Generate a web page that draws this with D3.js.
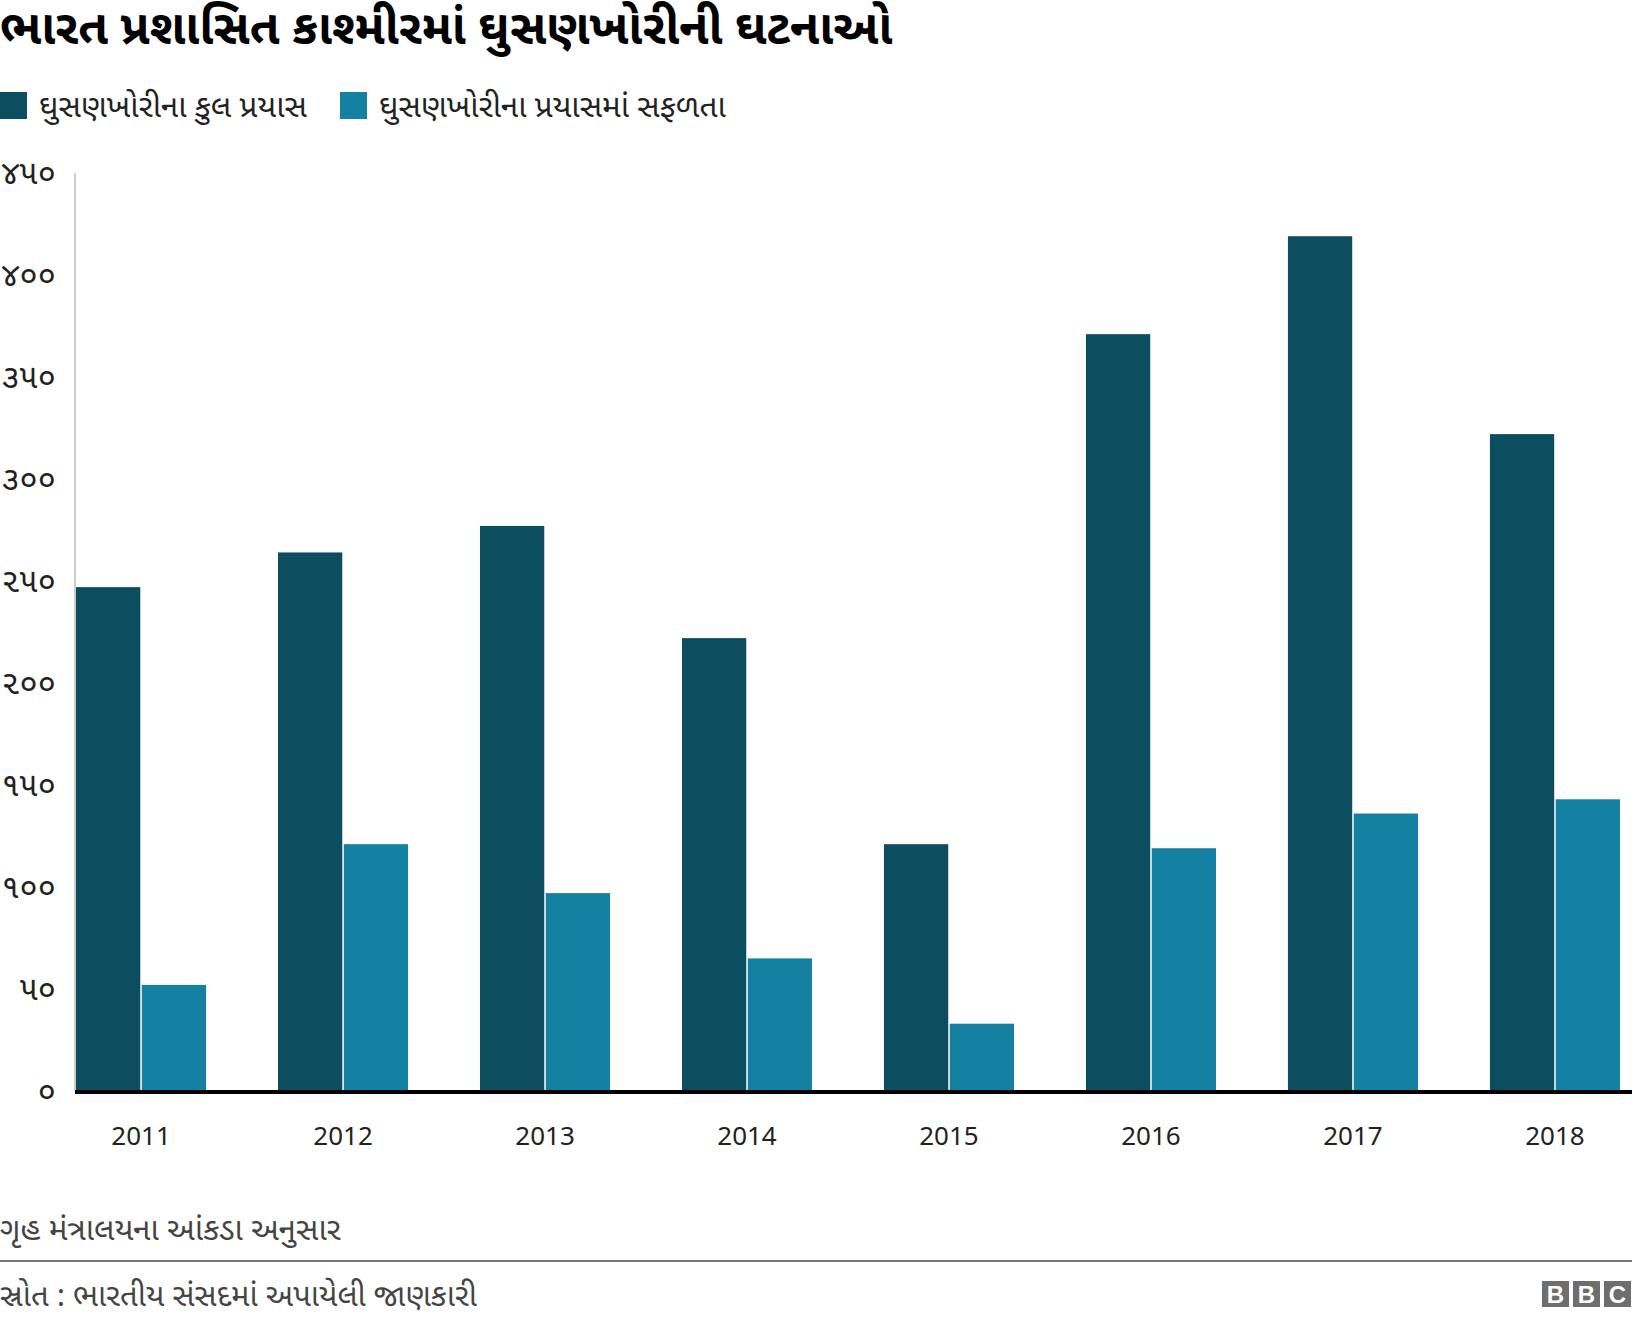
<!DOCTYPE html>
<html>
<head>
<meta charset="utf-8">
<script src="https://cdn.jsdelivr.net/npm/d3@7"></script>
<style>
    body { margin: 0; background: #fff; }
    svg text { font-family: "Noto Sans Gujarati", "Noto Sans", "DejaVu Sans", sans-serif; }
</style>
</head>
<body>
<svg id="chart_root" width="1632" height="1324"></svg>
<script>
// chart data
var years = ["2011", "2012", "2013", "2014", "2015", "2016", "2017", "2018"];
var total_attempts = [247, 264, 277, 222, 121, 371, 419, 322];
var successful_attempts = [52, 121, 97, 65, 33, 119, 136, 143];
var series_names = ["ઘુસણખોરીના કુલ પ્રયાસ", "ઘુસણખોરીના પ્રયાસમાં સફળતા"];
var series_colours = ["#0c4d5f", "#1480a2"];
var y_tick_values = [0, 50, 100, 150, 200, 250, 300, 350, 400, 450];
var y_tick_labels = ["૦", "૫૦", "૧૦૦", "૧૫૦", "૨૦૦", "૨૫૦", "૩૦૦", "૩૫૦", "૪૦૦", "૪૫૦"];
var title_text = "ભારત પ્રશાસિત કાશ્મીરમાં ઘુસણખોરીની ઘટનાઓ";
var note_text = "ગૃહ મંત્રાલયના આંકડા અનુસાર";
var source_text = "સ્રોત : ભારતીય સંસદમાં અપાયેલી જાણકારી";

var total_width = 1632;
var svg = d3.select("#chart_root");

// title
svg.append("text")
    .attr("x", 0)
    .attr("y", 44)
    .attr("font-size", 48)
    .attr("font-weight", "bold")
    .attr("fill", "#000")
    .text(title_text);

// legend
var legend_x = [0, 340];
series_names.forEach(function(name, i)
{
    svg.append("rect")
        .attr("x", legend_x[i])
        .attr("y", 92)
        .attr("width", 27)
        .attr("height", 27)
        .attr("fill", series_colours[i]);
    svg.append("text")
        .attr("x", legend_x[i] + 39)
        .attr("y", 117)
        .attr("font-size", 31.5)
        .attr("fill", "#222")
        .text(name);
});

// scales
var plot_left = 75;
var plot_top = 173;
var plot_bottom = 1091;

var x = d3.scaleBand()
    .domain(years)
    .range([76, 1620])
    .paddingInner(0.356)
    .paddingOuter(0);

var y = d3.scaleLinear()
    .domain([0, 450])
    .range([plot_bottom, plot_top]);

var inner = d3.scaleBand()
    .domain([0, 1])
    .range([0, x.bandwidth()])
    .paddingInner(0.023);

// left axis line
svg.append("line")
    .attr("x1", plot_left).attr("x2", plot_left)
    .attr("y1", y(450)).attr("y2", y(0))
    .attr("stroke", "#cccccc")
    .attr("stroke-width", 2);

// y axis labels
var y_axis = svg.append("g")
    .attr("class", "y-axis")
    .attr("transform", "translate(56,0)")
    .call(d3.axisLeft(y)
        .tickValues(y_tick_values)
        .tickSize(0)
        .tickPadding(0)
        .tickFormat(function(d, i) { return y_tick_labels[i]; }));
y_axis.select(".domain").remove();
y_axis.selectAll(".tick text")
    .attr("font-size", 33)
    .attr("fill", "#222")
    .attr("font-family", null);

// bars
var groups = svg.selectAll(".year-group")
    .data(years)
    .enter()
    .append("g")
    .attr("class", "year-group")
    .attr("transform", function(d) { return "translate(" + x(d) + ",0)"; });

groups.append("rect")
    .attr("x", inner(0))
    .attr("width", inner.bandwidth())
    .attr("y", function(d, i) { return y(total_attempts[i]); })
    .attr("height", function(d, i) { return y(0) - y(total_attempts[i]); })
    .attr("fill", series_colours[0]);

groups.append("rect")
    .attr("x", inner(1))
    .attr("width", inner.bandwidth())
    .attr("y", function(d, i) { return y(successful_attempts[i]); })
    .attr("height", function(d, i) { return y(0) - y(successful_attempts[i]); })
    .attr("fill", series_colours[1]);

// zero line
svg.append("line")
    .attr("x1", plot_left).attr("x2", total_width)
    .attr("y1", y(0) + 1).attr("y2", y(0) + 1)
    .attr("stroke", "#000")
    .attr("stroke-width", 4);

// x axis labels
var x_axis = svg.append("g")
    .attr("class", "x-axis")
    .attr("transform", "translate(0," + (y(0) + 36) + ")")
    .call(d3.axisBottom(x).tickSize(0).tickPadding(0));
x_axis.select(".domain").remove();
x_axis.selectAll(".tick text")
    .attr("font-size", 26)
    .attr("fill", "#222")
    .attr("font-family", null);

// footnote
svg.append("text")
    .attr("x", 0)
    .attr("y", 1240)
    .attr("font-size", 31.5)
    .attr("fill", "#444")
    .text(note_text);

// separator
svg.append("line")
    .attr("x1", 0).attr("x2", total_width)
    .attr("y1", 1261).attr("y2", 1261)
    .attr("stroke", "#777")
    .attr("stroke-width", 2);

// source
svg.append("text")
    .attr("x", 0)
    .attr("y", 1306)
    .attr("font-size", 31)
    .attr("fill", "#444")
    .text(source_text);

// BBC logo
var logo_letters = ["B", "B", "C"];
var logo = svg.append("g").attr("transform", "translate(1542,1281)");
logo_letters.forEach(function(letter, i)
{
    logo.append("rect")
        .attr("x", i * 31)
        .attr("y", 0)
        .attr("width", 27)
        .attr("height", 26)
        .attr("fill", "#6e6e6e");
    logo.append("text")
        .attr("x", i * 31 + 13.5)
        .attr("y", 22)
        .attr("text-anchor", "middle")
        .attr("font-size", 24)
        .attr("font-weight", "bold")
        .attr("fill", "#fff")
        .style("font-family", "Liberation Sans, Arial, sans-serif")
        .text(letter);
});
</script>
</body>
</html>
